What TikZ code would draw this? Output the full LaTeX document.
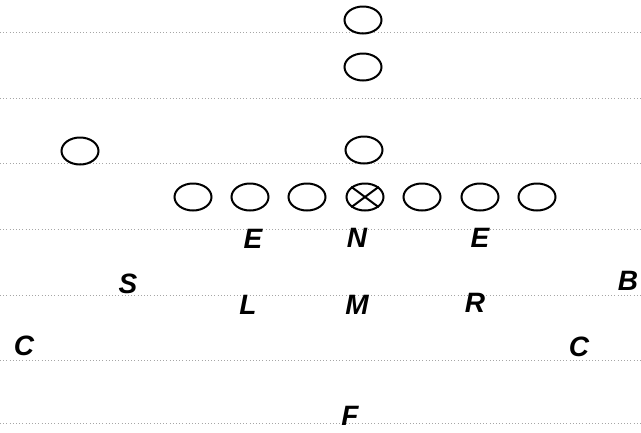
\documentclass[tikz,border=0pt]{standalone}
\usepackage{fontspec}
\setmainfont{Liberation Sans}
\usetikzlibrary{shapes.geometric}
\tikzset{
  player/.style={draw=black, ellipse, line width=2pt, minimum width=37pt, minimum height=27pt, inner sep=0pt},
  defender/.style={font=\fontsize{28}{28}\selectfont\bfseries\itshape, inner sep=0pt, text=black},
  ruled/.style={draw=black!35, line width=0.7pt, dash pattern=on 1pt off 2.2pt}
}
\begin{document}
\begin{tikzpicture}[x=1pt, y=-1pt]
\useasboundingbox (0,0) rectangle (641,432);
\fill[white] (0,0) rectangle (641,432);
% notebook lines
\foreach \yy in {32,98,163,229,295,360,423} {
  \draw[ruled] (0,\yy) -- (641,\yy);
}
% offense
\node[player] (qb1) at (363,20) {};
\node[player] (qb2) at (363,67) {};
\node[player] (wr) at (80,151) {};
\node[player] (qb) at (364,150) {};
\node[player] (o1) at (193,197) {};
\node[player] (o2) at (250,197) {};
\node[player] (o3) at (307,197) {};
\node[player] (ctr) at (365,197) {};
\node[player] (o5) at (422,197) {};
\node[player] (o6) at (480,197) {};
\node[player] (o7) at (537,197) {};
\draw[line width=2pt] (ctr.north west) -- (ctr.south east);
\draw[line width=2pt] (ctr.north east) -- (ctr.south west);
% defense
\node[defender] (e1) at (253,239) {E};
\node[defender] (n) at (357,238) {N};
\node[defender] (e2) at (480,238) {E};
\node[defender] (s) at (128,284) {S};
\node[defender] (l) at (248,305) {L};
\node[defender] (m) at (357,305) {M};
\node[defender] (r) at (475,303) {R};
\node[defender] (b) at (628,281) {B};
\node[defender] (c1) at (24,346) {C};
\node[defender] (c2) at (579,347) {C};
\node[defender] (f) at (350,416) {F};
\end{tikzpicture}
\end{document}
